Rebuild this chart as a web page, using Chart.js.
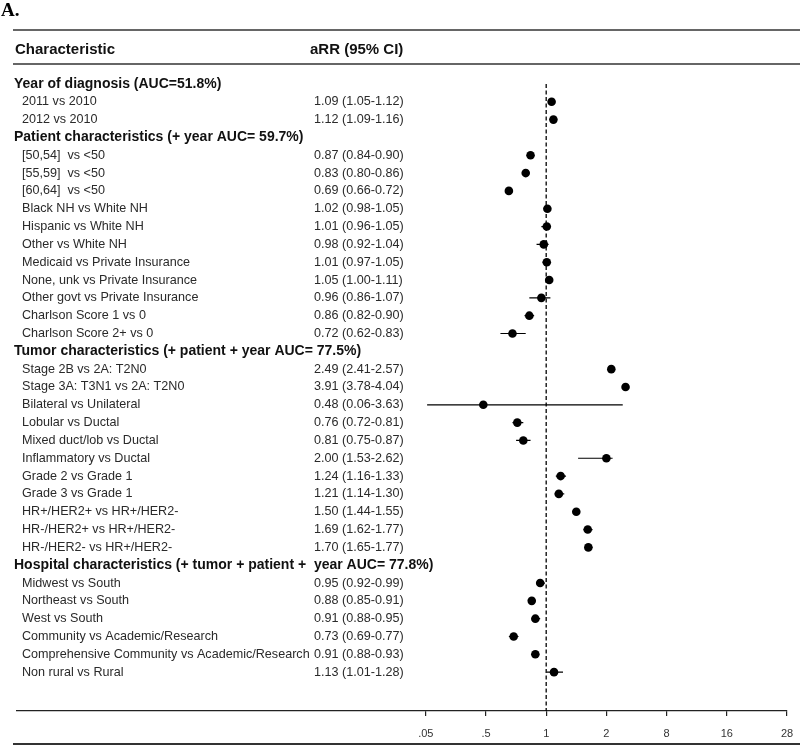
<!DOCTYPE html>
<html lang="en">
<head>
  <meta charset="UTF-8">
  <title>Forest plot - aRR (95% CI)</title>
  <script src="https://cdn.jsdelivr.net/npm/chart.js"></script>
  <style>
    html, body { margin: 0; padding: 0; background: #fff; }
    #wrap { width: 800px; height: 746px; }
  </style>
</head>
<body>
  <div id="wrap"><canvas id="forest" width="800" height="746"></canvas></div>

  <script>
    // rows of the table, top to bottom (headers have no estimate)
    const rowLabels = [
      'Year of diagnosis (AUC=51.8%)',
      '2011 vs 2010',
      '2012 vs 2010',
      'Patient characteristics (+ year AUC= 59.7%)',
      '[50,54]  vs <50',
      '[55,59]  vs <50',
      '[60,64]  vs <50',
      'Black NH vs White NH',
      'Hispanic vs White NH',
      'Other vs White NH',
      'Medicaid vs Private Insurance',
      'None, unk vs Private Insurance',
      'Other govt vs Private Insurance',
      'Charlson Score 1 vs 0',
      'Charlson Score 2+ vs 0',
      'Tumor characteristics (+ patient + year AUC= 77.5%)',
      'Stage 2B vs 2A: T2N0',
      'Stage 3A: T3N1 vs 2A: T2N0',
      'Bilateral vs Unilateral',
      'Lobular vs Ductal',
      'Mixed duct/lob vs Ductal',
      'Inflammatory vs Ductal',
      'Grade 2 vs Grade 1',
      'Grade 3 vs Grade 1',
      'HR+/HER2+ vs HR+/HER2-',
      'HR-/HER2+ vs HR+/HER2-',
      'HR-/HER2- vs HR+/HER2-',
      'Hospital characteristics (+ tumor + patient +  year AUC= 77.8%)',
      'Midwest vs South',
      'Northeast vs South',
      'West vs South',
      'Community vs Academic/Research',
      'Comprehensive Community vs Academic/Research',
      'Non rural vs Rural'
    ];

    const estimates = [null, 1.09, 1.12, null, 0.87, 0.83, 0.69, 1.02, 1.01, 0.98, 1.01, 1.05, 0.96, 0.86, 0.72,
      null, 2.49, 3.91, 0.48, 0.76, 0.81, 2.00, 1.24, 1.21, 1.50, 1.69, 1.70,
      null, 0.95, 0.88, 0.91, 0.73, 0.91, 1.13];
    const ciLow = [null, 1.05, 1.09, null, 0.84, 0.80, 0.66, 0.98, 0.96, 0.92, 0.97, 1.00, 0.86, 0.82, 0.62,
      null, 2.41, 3.78, 0.06, 0.72, 0.75, 1.53, 1.16, 1.14, 1.44, 1.62, 1.65,
      null, 0.92, 0.85, 0.88, 0.69, 0.88, 1.01];
    const ciHigh = [null, 1.12, 1.16, null, 0.90, 0.86, 0.72, 1.05, 1.05, 1.04, 1.05, 1.11, 1.07, 0.90, 0.83,
      null, 2.57, 4.04, 3.63, 0.81, 0.87, 2.62, 1.33, 1.30, 1.55, 1.77, 1.77,
      null, 0.99, 0.91, 0.95, 0.77, 0.93, 1.28];

    const refValue = 1;
    const tickValues = [0.05, 0.5, 1, 2, 8, 16, 28];
    const tickLabels = ['.05', '.5', '1', '2', '8', '16', '28'];

    // layout bits
    const LEFT_SLOT = -6.79;          // axis line runs far left of the .05 tick
    const Y_MIN = -1.12, Y_MAX = 35.18;
    const SANS = '"Liberation Sans", Arial, Helvetica, sans-serif';

    // x axis: ticks are equally spaced, values interpolated linearly between ticks
    class ForestScale extends Chart.LinearScale {
      static id = 'forest';
      static defaults = {};

      determineDataLimits() {
        this.min = tickValues[0];
        this.max = tickValues[tickValues.length - 1];
      }

      buildTicks() {
        return tickValues.map(v => ({ value: v }));
      }

      generateTickLabels(ticks) {
        ticks.forEach((t, i) => { t.label = tickLabels[i]; });
      }

      toSlot(v) {
        const t = tickValues, n = t.length;
        if (v <= t[0]) return (v - t[0]) / (t[1] - t[0]);
        for (let i = 0; i < n - 1; i++) {
          if (v <= t[i + 1]) return i + (v - t[i]) / (t[i + 1] - t[i]);
        }
        return n - 1 + (v - t[n - 1]) / (t[n - 1] - t[n - 2]);
      }

      getPixelForValue(v) {
        if (v === null || v === undefined || isNaN(v)) return NaN;
        const hi = tickValues.length - 1;
        return this.getPixelForDecimal((this.toSlot(v) - LEFT_SLOT) / (hi - LEFT_SLOT));
      }

      getValueForPixel(px) {
        const hi = tickValues.length - 1;
        const s = LEFT_SLOT + this.getDecimalForPixel(px) * (hi - LEFT_SLOT);
        const i = Math.max(0, Math.min(tickValues.length - 2, Math.floor(s)));
        return tickValues[i] + (s - i) * (tickValues[i + 1] - tickValues[i]);
      }
    }
    Chart.register(ForestScale);

    // CI segments, separated by gaps
    const ciSegments = [];
    const pointData = [];
    estimates.forEach((est, i) => {
      if (est === null) return;
      ciSegments.push({ x: ciLow[i], y: i }, { x: ciHigh[i], y: i }, { x: ciHigh[i], y: null });
      pointData.push({ x: est, y: i });
    });

    const fmt = v => v.toFixed(2);

    const tablePlugin = {
      id: 'forestTable',
      afterDraw(chart) {
        const ctx = chart.ctx;
        const yScale = chart.scales.y;
        ctx.save();

        // horizontal rules
        ctx.strokeStyle = '#333';
        ctx.lineWidth = 1.5;
        [30, 64].forEach(yy => {
          ctx.beginPath(); ctx.moveTo(13, yy); ctx.lineTo(800, yy); ctx.stroke();
        });
        ctx.lineWidth = 2;
        ctx.beginPath(); ctx.moveTo(13, 744); ctx.lineTo(800, 744); ctx.stroke();

        // panel letter
        ctx.fillStyle = '#000';
        ctx.textBaseline = 'alphabetic';
        ctx.font = 'bold 19px "Liberation Serif", "Times New Roman", serif';
        ctx.fillText('A.', 1, 16);

        // column headers
        ctx.textBaseline = 'middle';
        ctx.font = 'bold 15px ' + SANS;
        ctx.fillStyle = '#111';
        ctx.fillText('Characteristic', 15, 50);
        ctx.fillText('aRR (95% CI)', 310, 50);

        // rows
        rowLabels.forEach((label, i) => {
          const yy = yScale.getPixelForValue(i);
          if (estimates[i] === null) {
            ctx.font = 'bold 14px ' + SANS;
            ctx.fillStyle = '#111';
            ctx.fillText(label, 14, yy);
          } else {
            ctx.font = '12.6px ' + SANS;
            ctx.fillStyle = '#2a2a2a';
            ctx.fillText(label, 22, yy);
            ctx.fillText(`${fmt(estimates[i])} (${fmt(ciLow[i])}-${fmt(ciHigh[i])})`, 314, yy);
          }
        });
        ctx.restore();
      }
    };

    new Chart(document.getElementById('forest'), {
      type: 'scatter',
      data: {
        datasets: [
          {
            label: 'aRR',
            data: pointData,
            pointRadius: 4.3,
            pointBackgroundColor: '#000',
            pointBorderWidth: 0
          },
          {
            label: '95% CI',
            data: ciSegments,
            showLine: true,
            spanGaps: false,
            borderColor: '#000',
            borderWidth: 1.2,
            pointRadius: 0
          },
          {
            label: 'reference',
            data: [{ x: refValue, y: 0 }, { x: refValue, y: Y_MAX }],
            showLine: true,
            borderColor: '#000',
            borderWidth: 1.3,
            borderDash: [4, 2.5],
            pointRadius: 0
          }
        ]
      },
      options: {
        responsive: false,
        animation: false,
        events: [],
        layout: { padding: { left: 17, right: 13, top: 64, bottom: 0 } },
        plugins: { legend: { display: false }, tooltip: { enabled: false } },
        scales: {
          x: {
            type: 'forest',
            position: 'bottom',
            afterFit: scale => {
              scale.height = 35;
              scale.paddingLeft = 0;
              scale.paddingRight = 0;
            },
            border: { display: true, color: '#222', width: 1.2 },
            grid: { drawOnChartArea: false, drawTicks: true, tickLength: 5, color: '#222', lineWidth: 1.2 },
            ticks: {
              autoSkip: false, maxRotation: 0, padding: 11, color: '#333',
              font: { family: SANS, size: 11 }
            }
          },
          y: {
            type: 'linear',
            display: false,
            reverse: true,
            min: Y_MIN,
            max: Y_MAX
          }
        }
      },
      plugins: [tablePlugin]
    });
  </script>
</body>
</html>
